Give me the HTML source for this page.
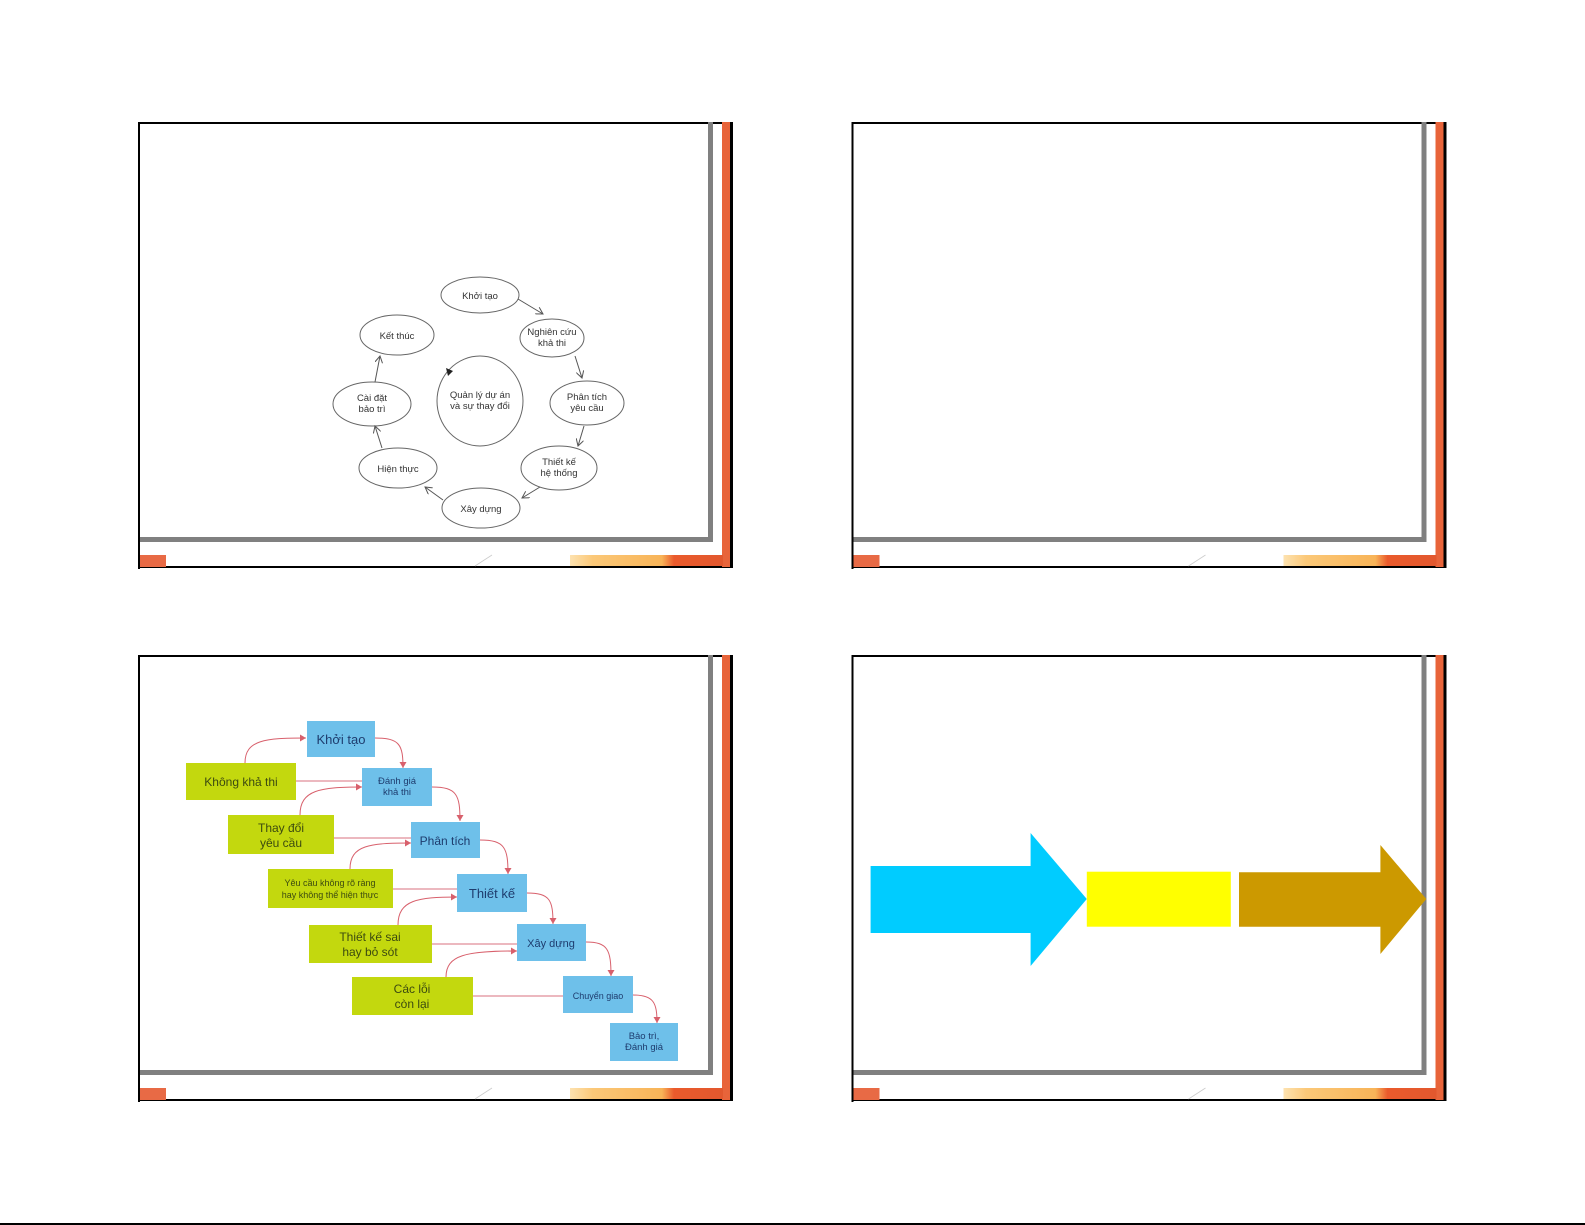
<!DOCTYPE html>
<html><head><meta charset="utf-8"><style>
html,body{margin:0;padding:0;background:#fff;}
svg{display:block;}
text{font-family:"Liberation Sans",sans-serif;}
</style></head><body>
<svg width="1585" height="1225" viewBox="0 0 1585 1225" xmlns="http://www.w3.org/2000/svg">
<defs>
<linearGradient id="bg" x1="0" x2="1" y1="0" y2="0">
<stop offset="0" stop-color="#fde2b0"/><stop offset="0.15" stop-color="#fbc878"/><stop offset="0.6" stop-color="#f8b458"/><stop offset="0.68" stop-color="#ea5a2c"/><stop offset="1" stop-color="#e2582e"/>
</linearGradient>
<marker id="ah" markerWidth="8" markerHeight="8" refX="7" refY="4" orient="auto" markerUnits="userSpaceOnUse"><path d="M0,0 L7,4 L0,8" fill="none" stroke="#555" stroke-width="1"/></marker>
<marker id="pa" markerWidth="7" markerHeight="7" refX="6" refY="3.5" orient="auto" markerUnits="userSpaceOnUse"><path d="M0,0 L6,3.5 L0,7 z" fill="#d8606c"/></marker>
<g id="frame">
<rect x="138" y="122" width="595" height="2" fill="#000"/>
<rect x="138" y="122" width="2" height="447" fill="#000"/>
<rect x="138" y="566" width="595" height="2" fill="#000"/>
<rect x="722" y="122" width="8" height="445" fill="#e8643a"/>
<rect x="730" y="122" width="3" height="446" fill="#000"/>
<rect x="708" y="122" width="5" height="420" fill="#808080"/>
<rect x="140" y="537" width="573" height="5" fill="#808080"/>
<rect x="140" y="555" width="26" height="12" fill="#e86a45"/>
<rect x="570" y="555" width="153" height="11" fill="url(#bg)"/>
<line x1="475" y1="566" x2="492" y2="555" stroke="#ccc" stroke-width="0.8"/>
</g>
</defs>
<use href="#frame"/>
<use href="#frame" transform="translate(713.5,0)"/>
<use href="#frame" transform="translate(0,533)"/>
<use href="#frame" transform="translate(713.5,533)"/>
<rect x="0" y="1223" width="1585" height="2" fill="#000"/>

<!-- Slide 1 cycle -->
<g fill="#fff" stroke="#666" stroke-width="1">
<ellipse cx="480" cy="295" rx="39" ry="18"/>
<ellipse cx="552" cy="338" rx="32" ry="19"/>
<ellipse cx="397" cy="335" rx="37" ry="20"/>
<ellipse cx="587" cy="403" rx="37" ry="22"/>
<ellipse cx="372" cy="404" rx="39" ry="22"/>
<ellipse cx="480" cy="401" rx="43" ry="45"/>
<ellipse cx="398" cy="468" rx="39" ry="20"/>
<ellipse cx="559" cy="468" rx="38" ry="22"/>
<ellipse cx="481" cy="508" rx="39" ry="20"/>
</g>
<g stroke="#555" stroke-width="1" fill="none" marker-end="url(#ah)">
<line x1="518" y1="299" x2="543" y2="314"/>
<line x1="575" y1="356" x2="582" y2="378"/>
<line x1="584" y1="426" x2="578" y2="446"/>
<line x1="540" y1="487" x2="522" y2="498"/>
<line x1="443" y1="500" x2="425" y2="487"/>
<line x1="382" y1="448" x2="375" y2="426"/>
<line x1="375" y1="382" x2="380" y2="356"/>
</g>
<path d="M446,368 l7,3 l-5,5 z" fill="#222"/>
<g font-size="9.5" fill="#333" text-anchor="middle">
<text x="480" y="299">Khởi tạo</text>
<text x="552" y="335">Nghiên cứu</text><text x="552" y="346">khả thi</text>
<text x="397" y="339">Kết thúc</text>
<text x="587" y="400">Phân tích</text><text x="587" y="411">yêu cầu</text>
<text x="372" y="401">Cài đặt</text><text x="372" y="412">bảo trì</text>
<text x="480" y="398">Quản lý dự án</text><text x="480" y="409">và sự thay đổi</text>
<text x="398" y="472">Hiện thực</text>
<text x="559" y="465">Thiết kế</text><text x="559" y="476">hệ thống</text>
<text x="481" y="512">Xây dựng</text>
</g>

<!-- Slide 3 -->
<g stroke="#e6a0aa" stroke-width="1.5" fill="none">
<line x1="296" y1="781" x2="362" y2="781"/>
<line x1="334" y1="838" x2="411" y2="838"/>
<line x1="393" y1="889" x2="457" y2="889"/>
<line x1="432" y1="944" x2="517" y2="944"/>
<line x1="473" y1="996" x2="563" y2="996"/>
</g>
<g stroke="#d8606c" stroke-width="1" fill="none" marker-end="url(#pa)">
<path d="M245,763 C245,740 265,738 306,738"/>
<path d="M300,815 C300,790 320,787 362,787"/>
<path d="M350,869 C350,845 370,843 411,843"/>
<path d="M398,925 C398,900 418,897 457,897"/>
<path d="M446,977 C446,955 466,951 517,951"/>
<path d="M375,738 C400,738 403,745 403,768"/>
<path d="M432,787 C457,787 460,795 460,821"/>
<path d="M480,840 C505,840 508,848 508,874"/>
<path d="M527,893 C550,893 553,900 553,924"/>
<path d="M586,942 C608,942 611,950 611,976"/>
<path d="M633,995 C654,995 657,1003 657,1023"/>
</g>
<g fill="#6ec0ea">
<rect x="307" y="721" width="68" height="36"/>
<rect x="362" y="768" width="70" height="38"/>
<rect x="411" y="822" width="69" height="36"/>
<rect x="457" y="874" width="70" height="38"/>
<rect x="517" y="924" width="69" height="37"/>
<rect x="563" y="976" width="70" height="37"/>
<rect x="610" y="1023" width="68" height="38"/>
</g>
<g fill="#c3d80e">
<rect x="186" y="763" width="110" height="37"/>
<rect x="228" y="815" width="106" height="39"/>
<rect x="268" y="869" width="125" height="39"/>
<rect x="309" y="925" width="123" height="38"/>
<rect x="352" y="977" width="121" height="38"/>
</g>
<g fill="#1e3c6e" text-anchor="middle">
<text x="341" y="744" font-size="13">Khởi tạo</text>
<text x="397" y="784" font-size="9.5">Đánh giá</text><text x="397" y="795" font-size="9.5">khả thi</text>
<text x="445" y="845" font-size="12">Phân tích</text>
<text x="492" y="898" font-size="13">Thiết kế</text>
<text x="551" y="947" font-size="11">Xây dựng</text>
<text x="598" y="999" font-size="9">Chuyển giao</text>
<text x="644" y="1039" font-size="9.5">Bảo trì,</text><text x="644" y="1050" font-size="9.5">Đánh giá</text>
</g>
<g fill="#3c4a10" text-anchor="middle">
<text x="241" y="786" font-size="12">Không khả thi</text>
<text x="281" y="832" font-size="12">Thay đổi</text><text x="281" y="847" font-size="12">yêu cầu</text>
<text x="330" y="886" font-size="9">Yêu cầu không rõ ràng</text><text x="330" y="898" font-size="9">hay không thể hiện thực</text>
<text x="370" y="941" font-size="12">Thiết kế sai</text><text x="370" y="956" font-size="12">hay bỏ sót</text>
<text x="412" y="993" font-size="12">Các lỗi</text><text x="412" y="1008" font-size="12">còn lại</text>
</g>

<!-- Slide 4 arrows -->
<path d="M870.6,866 L1030.6,866 L1030.6,833 L1086.8,899 L1030.6,966 L1030.6,933 L870.6,933 z" fill="#00ccff"/>
<rect x="1086.8" y="871.7" width="144" height="55" fill="#ffff00"/>
<path d="M1239,872.3 L1380.4,872.3 L1380.4,845 L1426.3,899 L1380.4,954 L1380.4,926.7 L1239,926.7 z" fill="#cc9900"/>
</svg>
</body></html>
